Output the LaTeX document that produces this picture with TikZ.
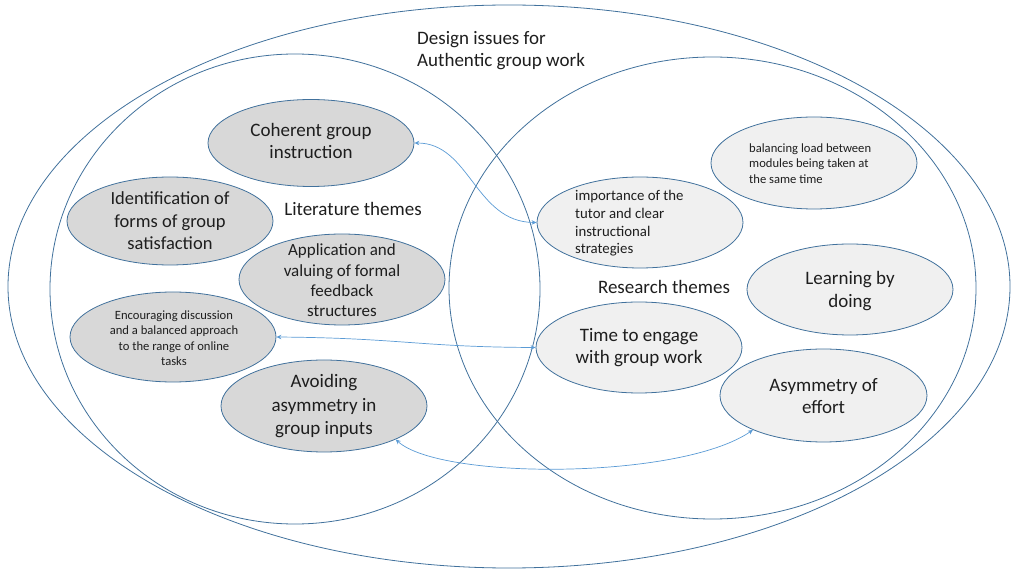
\documentclass[tikz,border=0pt]{standalone}
\usepackage{fontspec}
\setmainfont{Carlito}
\usetikzlibrary{arrows.meta,shapes.geometric}
\definecolor{edge}{RGB}{65,113,156}
\definecolor{arrowc}{RGB}{91,155,213}
\definecolor{litfill}{RGB}{216,216,216}
\definecolor{resfill}{RGB}{240,240,240}
\definecolor{txt}{RGB}{30,30,30}
\tikzset{
  bigell/.style={draw=edge, line width=0.8pt},
  theme/.style={ellipse, draw=edge, line width=0.8pt, inner sep=0pt, minimum width=206pt, minimum height=91pt},
  lit/.style={theme, fill=litfill},
  res/.style={theme, fill=resfill},
  bigtxt/.style={text=txt, align=center, inner sep=0pt, font=\fontsize{19}{22.5}\selectfont},
  medtxt/.style={text=txt, align=left, inner sep=0pt, font=\fontsize{14.8}{17.7}\selectfont},
  smalltxt/.style={text=txt, inner sep=0pt, font=\fontsize{12.6}{15.4}\selectfont},
  link/.style={draw=arrowc, line width=0.7pt, {Stealth[length=5pt,width=4.5pt]}-{Stealth[length=5pt,width=4.5pt]}}
}
\begin{document}
\begin{tikzpicture}[x=1pt,y=-1pt]
\useasboundingbox (0,0) rectangle (1013,569);
% large ellipses
\draw[bigell] (509,286.5) ellipse [x radius=501, y radius=281.5];
\draw[bigell] (295,289) ellipse [x radius=245, y radius=235];
\draw[bigell] (712.5,288) ellipse [x radius=263.5, y radius=231];
% titles
\node[bigtxt, anchor=west, align=left] (title) at (417,50.5) {Design issues for\\Authentic group work};
\node[bigtxt] (littitle) at (353,209) {Literature themes};
\node[bigtxt] (restitle) at (664,287) {Research themes};
% literature themes
\node[lit, minimum height=87pt] (coh) at (311,143) {};
\node[lit, minimum height=88pt] (ident) at (170,221) {};
\node[lit] (app) at (342,279.5) {};
\node[lit, minimum height=90pt] (enc) at (173,337) {};
\node[lit, minimum height=92pt] (av) at (324,406) {};
% research themes
\node[res] (imp) at (640,222.5) {};
\node[res, minimum height=92pt] (bal) at (814,163) {};
\node[res] (learn) at (850,289.5) {};
\node[res] (time) at (639,347.5) {};
\node[res, minimum width=207pt, minimum height=93pt] (asym) at (823.5,395.5) {};
% texts
\node[bigtxt] (coht) at (311,141) {Coherent group\\instruction};
\node[bigtxt, font=\fontsize{18.5}{22.5}\selectfont] (identt) at (170,221) {Identification of\\forms of group\\satisfaction};
\node[bigtxt, font=\fontsize{17}{20.3}\selectfont] (appt) at (342,280.5) {Application and\\valuing of formal\\feedback\\structures};
\node[smalltxt, align=center] (enct) at (174,338) {Encouraging discussion\\and a balanced approach\\to the range of online\\tasks};
\node[bigtxt, font=\fontsize{19}{23.5}\selectfont] (avt) at (324,406.5) {Avoiding\\asymmetry in\\group inputs};
\node[medtxt, anchor=west] (impt) at (575,223.5) {importance of the\\tutor and clear\\instructional\\strategies};
\node[smalltxt, align=left, anchor=west] (balt) at (749,163.5) {balancing load between\\modules being taken at\\the same time};
\node[bigtxt] (learnt) at (850,291) {Learning by\\doing};
\node[bigtxt] (timet) at (639,347.5) {Time to engage\\with group work};
\node[bigtxt] (asymt) at (823.5,396) {Asymmetry of\\effort};
% connectors
\draw[link] (coh.east) .. controls (470,143) and (475,222) .. (imp.west);
\draw[link] (enc.east) .. controls (400,338) and (420,347) .. (time.west);
\draw[link] (av.-25) .. controls (440,480) and (680,480) .. (asym.206);
\end{tikzpicture}
\end{document}
